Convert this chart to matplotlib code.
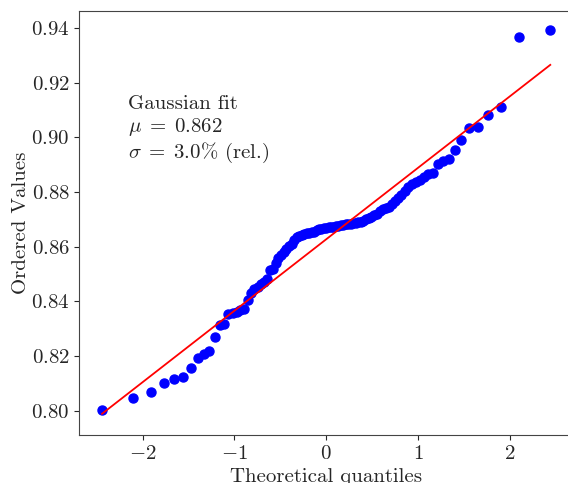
import numpy as np  # para el ajuste lineal
import matplotlib
matplotlib.use('Agg')
import matplotlib.pyplot as plt  # para la gráfica

# cuantiles teóricos
cuantiles = [-2.443, -2.105, -1.910, -1.767, -1.653, -1.558, -1.475, -1.401, -1.334, -1.273,
             -1.216, -1.162, -1.112, -1.065, -1.019, -0.976, -0.935, -0.895, -0.857, -0.819,
             -0.783, -0.748, -0.713, -0.680, -0.647, -0.615, -0.583, -0.552, -0.522, -0.492,
             -0.463, -0.434, -0.405, -0.377, -0.349, -0.321, -0.293, -0.266, -0.239, -0.212,
             -0.185, -0.158, -0.132, -0.105, -0.079, -0.052, -0.026, 0.0,
             0.026, 0.052, 0.079, 0.105, 0.132, 0.158, 0.185, 0.212, 0.239, 0.266,
             0.293, 0.321, 0.349, 0.377, 0.405, 0.434, 0.463, 0.492, 0.522, 0.552,
             0.583, 0.615, 0.647, 0.680, 0.713, 0.748, 0.783, 0.819, 0.857, 0.895,
             0.935, 0.976, 1.019, 1.065, 1.112, 1.162, 1.216, 1.273, 1.334, 1.401,
             1.475, 1.558, 1.653, 1.767, 1.910, 2.105, 2.443]

# valores ordenados
valores = [0.8002, 0.8048, 0.8067, 0.8103, 0.8117, 0.8123, 0.8155, 0.8193, 0.8207, 0.8220,
           0.8270, 0.8314, 0.8317, 0.8354, 0.8359, 0.8362, 0.8367, 0.8373, 0.8405, 0.8430,
           0.8444, 0.8454, 0.8464, 0.8472, 0.8481, 0.8515, 0.8519, 0.8542, 0.8558, 0.8570,
           0.8580, 0.8591, 0.8601, 0.8609, 0.8625, 0.8637, 0.8641, 0.8643, 0.8647, 0.8649,
           0.8652, 0.8653, 0.8655, 0.8660, 0.8664, 0.8666, 0.8669, 0.8670, 0.8671, 0.8673,
           0.8674, 0.8675, 0.8677, 0.8680, 0.8681, 0.8682, 0.8684, 0.8685, 0.8686, 0.8687,
           0.8691, 0.8692, 0.8696, 0.8701, 0.8704, 0.8710, 0.8715, 0.8720, 0.8729, 0.8737,
           0.8741, 0.8747, 0.8757, 0.8766, 0.8778, 0.8790, 0.8805, 0.8820, 0.8828, 0.8836,
           0.8845, 0.8855, 0.8866, 0.8871, 0.8903, 0.8912, 0.8920, 0.8954, 0.8989, 0.9034,
           0.9040, 0.9083, 0.9111, 0.9366, 0.9394]

texto = 'Gaussian fit\n$\\mu\\;=\\;0.862$\n$\\sigma\\;=\\;3.0\\%$ (rel.)'

plt.rcParams['font.family'] = 'serif'
plt.rcParams['font.serif'] = ['cmr10']
plt.rcParams['mathtext.fontset'] = 'cm'
plt.rcParams['axes.formatter.use_mathtext'] = True

x = np.array(cuantiles)
y = np.array(valores)
pendiente, ordenada = np.polyfit(x, y, 1)  # recta de ajuste

fig = plt.figure(figsize=(5.68, 4.83), dpi=100)
ax = fig.add_axes([0.1397, 0.0994, 0.869, 0.8785])
ax.plot(x, y, 'o', color='blue', markersize=6.5)
ax.plot(x, pendiente * x + ordenada, color='red', lw=1.3)

ax.set_xlim(-2.69, 2.69)
ax.set_ylim(0.7911, 0.9464)
ax.set_xlabel('Theoretical quantiles', fontsize=15, color='#262626')
ax.set_ylabel('Ordered Values', fontsize=15, color='#262626', labelpad=1)
ax.tick_params(labelsize=15, colors='#262626')
for s in ax.spines.values():
    s.set_color('#444444')

ax.text(0.098, 0.80, texto, transform=ax.transAxes, va='top', ha='left',
        fontsize=15, color='#262626', linespacing=1.15)

fig.savefig('out.png', dpi=100)
